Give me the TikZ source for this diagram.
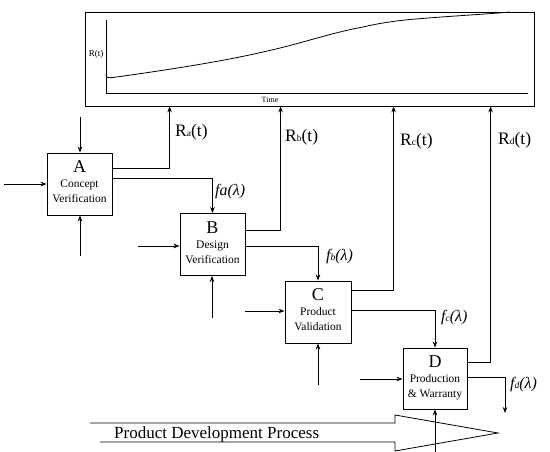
\documentclass[tikz,border=0pt]{standalone}
\usepackage{fontspec}
\setmainfont{Liberation Serif}
\usetikzlibrary{arrows.meta}
\newcommand{\subsm}[1]{{\fontsize{9.5}{9.5}\selectfont #1}}
\newcommand{\blktxt}[3]{{\fontsize{11.5}{15}\selectfont\begin{tabular}{@{}c@{}}{\fontsize{18}{18}\selectfont #1}\\#2\\#3\end{tabular}}}
\begin{document}
\begin{tikzpicture}[x=1pt,y=-1pt,
  ln/.style={line width=0.8pt},
  arr/.style={ln,-{Stealth[length=6pt,width=4.5pt]}},
  blk/.style={draw,line width=0.9pt,minimum width=65pt,minimum height=62pt,inner sep=0pt,align=center},
  rl/.style={font=\fontsize{17.5}{17.5}\selectfont,anchor=west,inner sep=0pt},
  fl/.style={font=\fontsize{16}{16}\selectfont\itshape,anchor=west,inner sep=0pt}]
\useasboundingbox (0,0) rectangle (550,452);
% plot box
\node[draw,line width=0.8pt,minimum width=449pt,minimum height=94pt,inner sep=0pt] (plot) at (309.5,59) {};
\coordinate (org) at (106,93);
\coordinate (ytop) at (106,20);
\coordinate (xend) at (528,93);
\draw[ln] (ytop) -- (org) -- (xend);
\node[font=\fontsize{9}{9}\selectfont,inner sep=0pt] (rt) at (96,54) {R(t)};
\node[font=\fontsize{8}{8}\selectfont,inner sep=0pt] (time) at (270,100) {Time};
\draw[ln] (106,74) .. controls (106,78) and (108,78) .. (113,77.5)
  .. controls (160,71) and (220,62) .. (263,52)
  .. controls (300,44) and (330,33) .. (363,27)
  .. controls (380,23) and (395,21) .. (410,19.5)
  .. controls (450,16) and (490,14) .. (510,12);
% arrow targets on plot bottom
\coordinate (ta) at ([xshift=85pt]plot.south west);
\coordinate (tb) at ([xshift=196pt]plot.south west);
\coordinate (tc) at ([xshift=309pt]plot.south west);
\coordinate (td) at ([xshift=406pt]plot.south west);
% blocks
\node[blk] (A) at (79.5,184) {\blktxt{A}{Concept}{Verification}};
\node[blk] (B) at (212.5,244.5) {\blktxt{B}{Design}{Verification}};
\node[blk,minimum width=66pt] (C) at (318,312) {\blktxt{C}{Product}{Validation}};
\node[blk,minimum width=64pt,minimum height=61pt] (D) at (435,378.5) {\blktxt{D}{Production}{\& Warranty}};
% free ends
\coordinate (inA) at (4,184);
\coordinate (topA) at (80,117);
\coordinate (botA) at (80,256);
\coordinate (inB) at (138,246);
\coordinate (botB) at (212,318);
\coordinate (inC) at (245,311);
\coordinate (botC) at (318,385);
\coordinate (inD) at (360,379);
\coordinate (botD) at (435,452);
\coordinate (fdend) at (505,413);
% inputs
\draw[arr] (inA) -- (A.west |- inA);
\draw[arr] (topA) -- (A.north -| topA);
\draw[arr] (botA) -- (A.south -| botA);
\draw[arr] (inB) -- (B.west |- inB);
\draw[arr] (botB) -- (B.south -| botB);
\draw[arr] (inC) -- (C.west |- inC);
\draw[arr] (botC) -- (C.south -| botC);
\draw[arr] (inD) -- (D.west |- inD);
% big process arrow
\draw[ln] (90,423) -- (395,423) -- (395,415) -- (498,433) -- (395,451) -- (395,442) -- (100,442);
\node[font=\fontsize{17}{17}\selectfont,anchor=base west,inner sep=0pt] (pdp) at (114,438) {Product Development Process};
\draw[arr] (botD) -- (D.south -| botD);
% R outputs
\draw[arr] ([yshift=-16pt]A.north east) -| (ta);
\draw[arr] ([yshift=-17pt]B.north east) -| (tb);
\draw[arr] ([yshift=-10pt]C.north east) -| (tc);
\draw[arr] ([yshift=-15pt]D.north east) -| (td);
\node[rl] (ra) at (175,132) {R\subsm{a}(t)};
\node[rl] (rb) at (285,137) {R\subsm{b}(t)};
\node[rl] (rc) at (400,141) {R\subsm{c}(t)};
\node[rl] (rd) at (498,140) {R\subsm{d}(t)};
% f outputs
\draw[arr] ([yshift=-26pt]A.north east) -| (B.north);
\draw[arr] ([yshift=-33pt]B.north east) -| (C.north);
\draw[arr] ([yshift=-30pt]C.north east) -| (D.north);
\draw[arr] ([yshift=-30pt]D.north east) -| (fdend);
\node[fl] (fa) at (215,192) {fa(λ)};
\node[fl] (fb) at (326,257) {f\subsm{b}(λ)};
\node[fl] (fc) at (441,318) {f\subsm{c}(λ)};
\node[fl] (fd) at (510,385) {f\subsm{d}(λ)};
\end{tikzpicture}
\end{document}
